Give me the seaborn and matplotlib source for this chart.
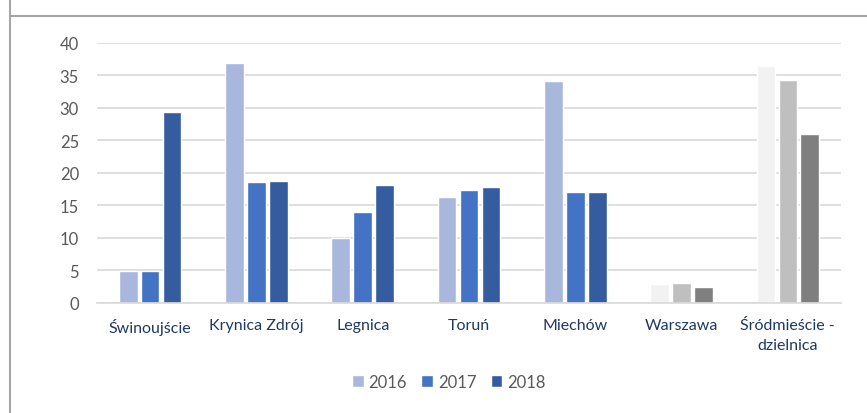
import pandas as pd
import numpy as np
import matplotlib.pyplot as plt
import seaborn as sns
from matplotlib.lines import Line2D

sns.set_theme(style="white")
plt.rcParams['font.family'] = ['Lato', 'DejaVu Sans']

# data
cities = ["Świnoujście", "Krynica Zdrój", "Legnica", "Toruń", "Miechów", "Warszawa", "Śródmieście -\ndzielnica"]
years = ["2016", "2017", "2018"]
v2016 = [4.9, 36.9, 9.9, 16.3, 34.1, 2.85, 36.4]
v2017 = [4.9, 18.6, 13.9, 17.3, 17.0, 3.0, 34.3]
v2018 = [29.3, 18.7, 18.1, 17.8, 17.1, 2.4, 25.9]

blues = ["#A9B7DC", "#4472C4", "#345C9F"]
greys = ["#F2F2F2", "#BFBFBF", "#7F7F7F"]

df = pd.DataFrame({"city": cities * 3,
                   "year": np.repeat(years, len(cities)),
                   "value": v2016 + v2017 + v2018})

fig = plt.figure(figsize=(8.67, 4.14), dpi=100)
ax = fig.add_axes([97 / 867, 110.5 / 414, 744 / 867, 259.5 / 414])

sns.barplot(data=df, x="city", y="value", hue="year", palette=blues,
            width=0.62, gap=0.15, ax=ax, saturation=1, legend=True)

# last two groups drawn in grey
for i, cont in enumerate(ax.containers):
    for j, bar in enumerate(cont):
        if j >= 5:
            bar.set_facecolor(greys[i])

ax.set_ylim(0, 40)
ax.set_yticks(range(0, 41, 5))
ax.set_xlim(-0.5, len(cities) - 0.5)
ax.yaxis.grid(True, color="#D9D9D9", linewidth=1.2)
ax.set_axisbelow(True)
for s in ["top", "right", "left"]:
    ax.spines[s].set_visible(False)
ax.spines["bottom"].set_color("#D9D9D9")
ax.spines["bottom"].set_linewidth(1.2)
ax.set_xlabel("")
ax.set_ylabel("")
ax.tick_params(axis="y", colors="#595959", labelsize=12, length=0, pad=13)
ax.tick_params(axis="x", colors="#1F3864", labelsize=11.5, length=0, pad=11)
for lab in ax.get_xticklabels():
    lab.set_linespacing(1.55)
    lab.set_verticalalignment("top")

handles, labels = ax.get_legend_handles_labels()
ax.legend(handles, labels, loc="center", bbox_to_anchor=(0.473, -0.306), ncol=3,
          frameon=False, fontsize=12, labelcolor="#595959",
          handlelength=0.7, handleheight=0.7, handletextpad=0.3, columnspacing=0.85)

# border remnants
fig.add_artist(Line2D([9.5 / 867, 9.5 / 867], [0, 1], color="#A6A6A6", linewidth=1.5))
fig.add_artist(Line2D([9.5 / 867, 1], [1 - 16.5 / 414, 1 - 16.5 / 414], color="#A6A6A6", linewidth=1.5))

fig.savefig("out.png", dpi=100)
